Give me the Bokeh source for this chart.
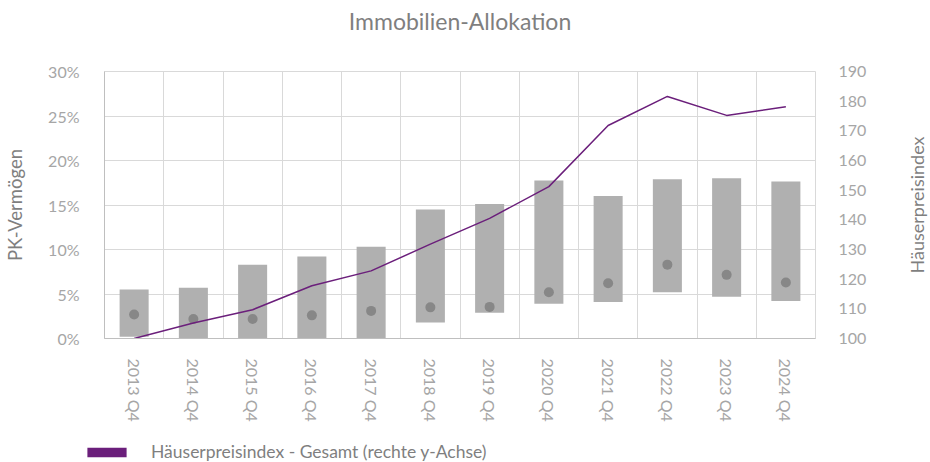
import numpy as np
from bokeh.plotting import figure
from bokeh.layouts import column, row
from bokeh.models import (Range1d, LinearAxis, FixedTicker, NumeralTickFormatter,
                          Legend, LegendItem, ColumnDataSource)
from bokeh.embed import file_html
from bokeh.resources import INLINE

# ---- data ----
categories = ["2013 Q4", "2014 Q4", "2015 Q4", "2016 Q4", "2017 Q4", "2018 Q4",
              "2019 Q4", "2020 Q4", "2021 Q4", "2022 Q4", "2023 Q4", "2024 Q4"]
alloc_low = [0.002, 0.0, 0.0, 0.0, 0.0, 0.018, 0.029, 0.039, 0.041, 0.052, 0.047, 0.042]
alloc_high = [0.055, 0.057, 0.083, 0.092, 0.103, 0.145, 0.151, 0.1775, 0.160, 0.179, 0.180, 0.1765]
alloc_mid = [0.027, 0.022, 0.022, 0.026, 0.031, 0.035, 0.0355, 0.052, 0.062, 0.083, 0.0715, 0.063]
hpi = [100.0, 105.2, 109.7, 117.8, 122.8, 131.8, 140.5, 151.2, 171.8, 181.6, 175.2, 178.1]
left_ticks = [0.0, 0.05, 0.10, 0.15, 0.20, 0.25, 0.30]
right_ticks = [100, 110, 120, 130, 140, 150, 160, 170, 180, 190]
title_text = "Immobilien-Allokation"
left_title = "PK-Vermögen"
right_title = "Häuserpreisindex"
legend_text = "Häuserpreisindex - Gesamt (rechte y-Achse)"

FONT = "Lato"
TICK_COLOR = "#a6a6a6"
TEXT_COLOR = "#7f7f7f"
GRID = "#d9d9d9"
PURPLE = "#6b1f7b"

idx = list(range(len(categories)))
src = ColumnDataSource(dict(x=idx, low=alloc_low, high=alloc_high, mid=alloc_mid, hpi=hpi))

W_ALL = 930
W3 = 30                     # strip on the right carrying the right axis title
W = W_ALL - W3              # main chart width
H1, H2 = 424, 38            # main chart height, legend strip height
FL, FR, FT, FB = 104, 815, 71, 338   # frame edges in page pixels

p = figure(width=W, height=H1, output_backend="svg", toolbar_location=None,
           x_range=Range1d(-0.5, len(categories) - 0.5), y_range=Range1d(0, 0.30),
           min_border_left=FL, min_border_right=W - FR, min_border_top=FT,
           min_border_bottom=H1 - FB)
p.frame_align = False
p.extra_y_ranges = {"hpi": Range1d(right_ticks[0], right_ticks[-1])}

p.vbar(x="x", bottom="low", top="high", width=0.49, source=src,
       fill_color="#b0b0b0", line_color=None)
p.scatter(x="x", y="mid", size=10, source=src, fill_color="#878787", line_color=None)
p.line(x="x", y="hpi", y_range_name="hpi", source=src, line_color=PURPLE, line_width=1.5)

# title
p.title.text = title_text
p.title.align = "center"
p.title.offset = 9
p.title.text_font = FONT
p.title.text_font_size = "23px"
p.title.text_font_style = "normal"
p.title.text_color = TEXT_COLOR
p.title.standoff = 0
p.title.padding = dict(left=0, right=0, top=0, bottom=37)

# axes styling
xa = p.xaxis[0]
xa.ticker = FixedTicker(ticks=idx)
xa.major_label_overrides = {i: c for i, c in zip(idx, categories)}
xa.major_label_orientation = "vertical"
xa.major_label_standoff = 14
xa.major_tick_line_color = None
xa.minor_tick_line_color = None
xa.axis_line_color = "#bfbfbf"
xa.major_label_text_font = FONT
xa.major_label_text_font_size = "16px"
xa.major_label_text_color = TICK_COLOR

ya = p.yaxis[0]
ya.ticker = FixedTicker(ticks=left_ticks)
ya.formatter = NumeralTickFormatter(format="0%")
ya.major_tick_line_color = None
ya.minor_tick_line_color = None
ya.axis_line_color = "#bfbfbf"
ya.major_label_standoff = 19
ya.major_label_text_font = FONT
ya.major_label_text_font_size = "16px"
ya.major_label_text_color = TICK_COLOR
ya.axis_label = left_title
ya.axis_label_text_font = FONT
ya.axis_label_text_font_size = "18.5px"
ya.axis_label_text_font_style = "normal"
ya.axis_label_text_color = TEXT_COLOR
ya.axis_label_standoff = 19

ra = LinearAxis(y_range_name="hpi", ticker=FixedTicker(ticks=right_ticks))
ra.major_tick_line_color = None
ra.minor_tick_line_color = None
ra.axis_line_color = None
ra.major_label_standoff = 17
ra.major_label_text_font = FONT
ra.major_label_text_font_size = "16px"
ra.major_label_text_color = TICK_COLOR
p.add_layout(ra, "right")

p.xgrid.ticker = FixedTicker(ticks=[i - 0.5 for i in range(len(categories) + 1)])
p.ygrid.ticker = FixedTicker(ticks=left_ticks)
p.xgrid.grid_line_color = GRID
p.ygrid.grid_line_color = GRID
p.outline_line_color = GRID
p.background_fill_color = "white"
p.border_fill_color = "white"

# ---- right strip: title of the right y axis, reading bottom-to-top ----
p3 = figure(width=W3, height=H1, output_backend="svg", toolbar_location=None,
            title=right_title, title_location="left",
            x_range=Range1d(0, 1), y_range=Range1d(0, 1),
            x_axis_type=None, y_axis_type=None,
            min_border_left=W3 - 2, min_border_right=0, min_border_top=FT,
            min_border_bottom=H1 - FB)
p3.frame_align = False
p3.outline_line_color = None
p3.grid.visible = False
p3.background_fill_color = "white"
p3.border_fill_color = "white"
p3.title.align = "center"
p3.title.offset = 5
p3.title.standoff = 6
p3.title.text_font = FONT
p3.title.text_font_size = "18px"
p3.title.text_font_style = "normal"
p3.title.text_color = TEXT_COLOR

# ---- legend strip (separate small figure so that the legend is not clipped) ----
p2 = figure(width=W_ALL, height=H2, output_backend="svg", toolbar_location=None,
            x_range=Range1d(0, 1), y_range=Range1d(0, 1),
            x_axis_type=None, y_axis_type=None,
            min_border_left=0, min_border_right=0, min_border_top=0, min_border_bottom=0)
p2.frame_align = False
p2.outline_line_color = None
p2.background_fill_color = "white"
p2.border_fill_color = "white"
leg_src = ColumnDataSource(dict(l=[np.nan], r=[np.nan], b=[np.nan], t=[np.nan]))
leg_r = p2.quad(left="l", right="r", bottom="b", top="t", source=leg_src,
                fill_color=PURPLE, line_color=None)
legend = Legend(items=[LegendItem(label=legend_text, renderers=[leg_r])],
                location=(82, 0), orientation="horizontal",
                glyph_width=49, glyph_height=12, label_height=10, label_standoff=20,
                padding=0, margin=0, border_line_color=None, background_fill_alpha=0,
                label_text_font=FONT, label_text_font_size="17.5px",
                label_text_color=TEXT_COLOR)
p2.add_layout(legend, "center")

layout = column(row(p, p3, spacing=0), p2, spacing=0)
open("out.html", "w").write(file_html(layout, INLINE))
